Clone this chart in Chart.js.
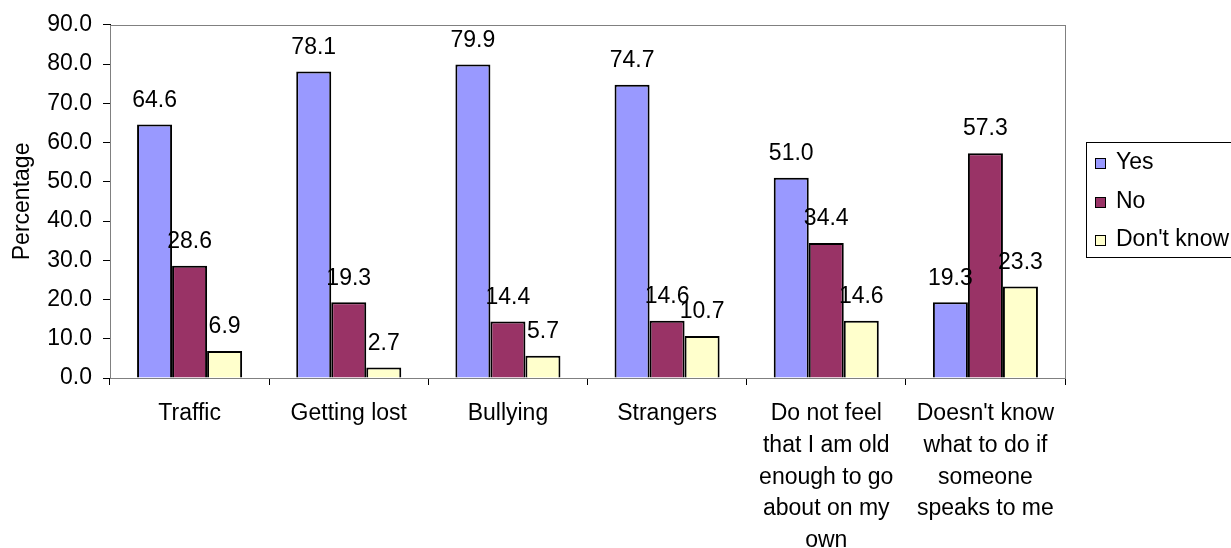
<!DOCTYPE html>
<html>
<head>
<meta charset="utf-8">
<title>Percentage</title>
<script src="https://cdn.jsdelivr.net/npm/chart.js@4.4.1/dist/chart.umd.min.js"></script>
<style>
  html, body { margin: 0; padding: 0; background: #ffffff; }
  #contenedor { position: relative; width: 1231px; height: 548px; }
</style>
</head>
<body>
<div id="contenedor"><canvas id="grafico"></canvas></div>
<script>
// Datos del gráfico
const categorias = [
  "Traffic",
  "Getting lost",
  "Bullying",
  "Strangers",
  ["Do not feel", "that I am old", "enough to go", "about on my", "own"],
  ["Doesn't know", "what to do if", "someone", "speaks to me"]
];
const serieSi = [64.6, 78.1, 79.9, 74.7, 51.0, 19.3];
const serieNo = [28.6, 19.3, 14.4, 14.6, 34.4, 57.3];
const serieNoSabe = [6.9, 2.7, 5.7, 10.7, 14.6, 23.3];
const nombresSeries = ["Yes", "No", "Don't know"];
const ticksY = [0, 10, 20, 30, 40, 50, 60, 70, 80, 90];
const tituloY = "Percentage";

const coloresSeries = ["#9999ff", "#993366", "#ffffcc"];
const fuente = '"Liberation Sans", Arial, sans-serif';
const tamFuente = 23;

(function () {
  "use strict";

  Chart.defaults.font.family = fuente;
  Chart.defaults.font.size = tamFuente;
  Chart.defaults.color = "#000000";

  // Marco gris del área de trazado (arriba y derecha)
  const marcoArea = {
    id: "marcoArea",
    beforeDatasetsDraw(chart) {
      const { ctx, chartArea: a } = chart;
      ctx.save();
      ctx.strokeStyle = "#808080";
      ctx.lineWidth = 1;
      ctx.strokeRect(Math.round(a.left) + 0.5, Math.round(a.top) + 0.5,
        Math.round(a.right - a.left), Math.round(a.bottom - a.top));
      ctx.restore();
    }
  };

  // Valores encima de cada barra
  const etiquetasValor = {
    id: "etiquetasValor",
    afterDatasetsDraw(chart) {
      const ctx = chart.ctx;
      ctx.save();
      ctx.font = tamFuente + "px " + fuente;
      ctx.fillStyle = "#000";
      ctx.textAlign = "center";
      ctx.textBaseline = "middle";
      chart.data.datasets.forEach((ds, i) => {
        chart.getDatasetMeta(i).data.forEach((barra, j) => {
          ctx.fillText(ds.data[j].toFixed(1), barra.x, barra.y - 24);
        });
      });
      ctx.restore();
    }
  };

  // Leyenda con recuadro a la derecha
  const leyenda = {
    id: "leyenda",
    afterDraw(chart) {
      const ctx = chart.ctx;
      const x0 = 1086, y0 = 142, alto = 115;
      ctx.save();
      ctx.strokeStyle = "#000";
      ctx.lineWidth = 1;
      ctx.strokeRect(x0 + 0.5, y0 + 0.5, 200, alto);
      ctx.font = tamFuente + "px " + fuente;
      ctx.textBaseline = "middle";
      ctx.textAlign = "left";
      nombresSeries.forEach((nombre, i) => {
        const yc = 163 + i * 38.5;
        const ys = Math.round(yc) - 5;
        ctx.fillStyle = coloresSeries[i];
        ctx.fillRect(1095, ys, 10, 10);
        ctx.strokeRect(1095.5, ys + 0.5, 10, 10);
        ctx.fillStyle = "#000";
        ctx.fillText(nombre, 1116, yc);
      });
      ctx.restore();
    }
  };

  const conjuntos = [serieSi, serieNo, serieNoSabe].map((datos, i) => ({
    label: nombresSeries[i],
    data: datos,
    backgroundColor: coloresSeries[i],
    borderColor: "#000000",
    borderWidth: 2,
    categoryPercentage: 0.66,
    barPercentage: 1.0
  }));

  new Chart(document.getElementById("grafico"), {
    type: "bar",
    data: { labels: categorias, datasets: conjuntos },
    options: {
      responsive: true,
      maintainAspectRatio: false,
      animation: false,
      layout: { padding: { left: 0, top: 20, right: 166, bottom: 0 } },
      plugins: {
        legend: { display: false },
        tooltip: { enabled: false }
      },
      scales: {
        x: {
          grid: {
            offset: true,
            drawOnChartArea: false,
            drawTicks: true,
            tickLength: 7,
            color: "#000000"
          },
          border: { display: true, color: "#000000", width: 1 },
          ticks: {
            maxRotation: 0,
            autoSkip: false,
            padding: 13,
            font: { size: tamFuente, lineHeight: 1.38 }
          },
          afterFit(escala) { escala.height = 170; }
        },
        y: {
          min: 0,
          max: 90,
          afterBuildTicks(escala) {
            escala.ticks = ticksY.map((v) => ({ value: v }));
          },
          grid: {
            drawOnChartArea: false,
            drawTicks: true,
            tickLength: 7,
            color: "#000000"
          },
          border: { display: true, color: "#000000", width: 1 },
          ticks: {
            padding: 11,
            callback: (v) => Number(v).toFixed(1)
          },
          title: {
            display: true,
            text: tituloY,
            padding: { top: 9, bottom: 0 },
            font: { size: tamFuente }
          },
          afterFit(escala) { escala.width = 110; }
        }
      }
    },
    plugins: [marcoArea, etiquetasValor, leyenda]
  });
})();
</script>
</body>
</html>
